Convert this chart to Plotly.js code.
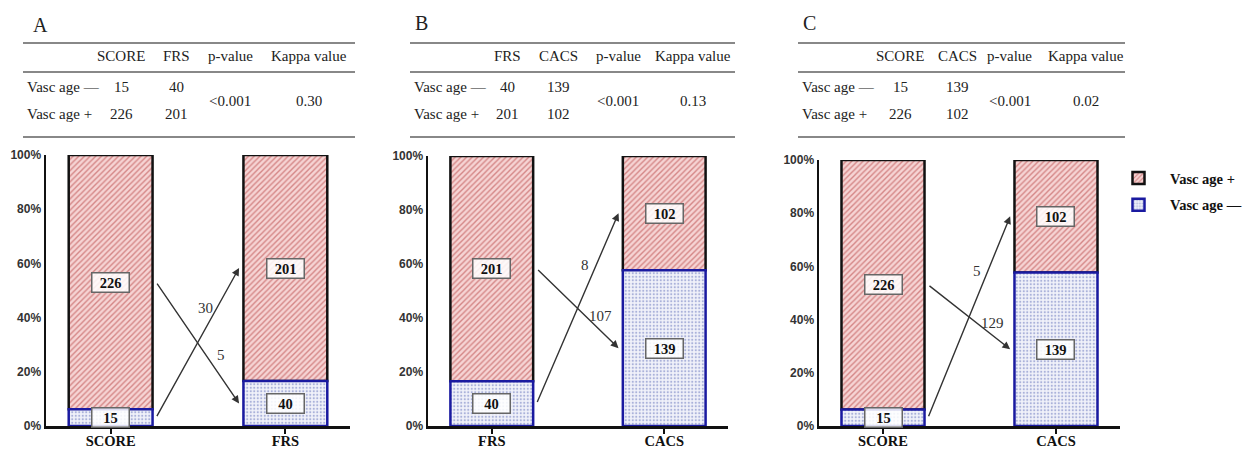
<!DOCTYPE html>
<html><head><meta charset="utf-8">
<script src="https://cdn.plot.ly/plotly-3.0.1.min.js"></script>
<style>body{margin:0;background:#fff}#chart{width:1255px;height:456px}</style>
</head><body><div id="chart"></div>
<script>
// ---------- data ----------
const methods = ['SCORE', 'FRS', 'CACS'];
const vascNeg = [15, 40, 139];     // Vasc age —
const vascPos = [226, 201, 102];   // Vasc age +
const panelLetters = ['A', 'B', 'C'];
const panelPairs = [['SCORE', 'FRS'], ['FRS', 'CACS'], ['SCORE', 'CACS']];
const upArrowLabels = [30, 8, 5];
const downArrowLabels = [5, 107, 129];
const pValues = ['<0.001', '<0.001', '<0.001'];
const kappaValues = ['0.30', '0.13', '0.02'];
const seriesNames = ['Vasc age +', 'Vasc age —'];
const statHeaders = ['p-value', 'Kappa value'];
const yTickVals = [0, 20, 40, 60, 80, 100];
const yTickText = ['0%', '20%', '40%', '60%', '80%', '100%'];

// ---------- geometry (pixels) ----------
const W = 1255, H = 456;
const px = x => x / W, py = y => 1 - y / H;
const geo = [
  {x: [46, 350], y: [155, 426], tL: 23, tR: 355, cols: [121, 176, 230, 309], letter: [40, 25]},
  {x: [428, 728], y: [156, 426], tL: 410, tR: 735, cols: [507, 558, 618, 693], letter: [421, 23]},
  {x: [819, 1120], y: [160, 426], tL: 798, tR: 1125, cols: [900, 957, 1010, 1086], letter: [809, 23]}
];
const tableY = {top: 43, mid: 72, bot: 137, head: 56, r1: 87, r2: 114, stat: 101};

const serif = 'Liberation Serif, Times New Roman, serif';
const sans = 'Liberation Sans, Arial, sans-serif';

const traces = [], annotations = [], shapes = [];
const layout = {
  width: W, height: H, margin: {l: 0, r: 0, t: 0, b: 0},
  paper_bgcolor: '#fff', plot_bgcolor: 'rgba(0,0,0,0)',
  barmode: 'overlay', showlegend: true,
  legend: {x: px(1107), y: py(162), xanchor: 'left', yanchor: 'top',
           font: {family: serif, size: 14.5, color: '#111', weight: 'bold'},
           itemwidth: 53, traceorder: 'grouped', tracegroupgap: 5, bgcolor: 'rgba(0,0,0,0)'},
  annotations, shapes
};

panelPairs.forEach((pair, i) => {
  const g = geo[i];
  const sfx = i === 0 ? '' : String(i + 1);
  const xa = 'x' + sfx, ya = 'y' + sfx;
  const idx = pair.map(m => methods.indexOf(m));
  const neg = idx.map(k => vascNeg[k]);
  const pos = idx.map(k => vascPos[k]);
  const negPct = neg.map((v, j) => v / (v + pos[j]) * 100);
  const posPct = pos.map((v, j) => v / (v + neg[j]) * 100);

  traces.push({
    type: 'bar', x: pair, y: posPct, base: negPct, width: 0.48,
    name: seriesNames[0], legendgroup: 'pos', showlegend: i === 0,
    xaxis: xa, yaxis: ya, hoverinfo: 'skip',
    marker: {color: '#d48686',
             pattern: {shape: '/', fgcolor: '#d48686', bgcolor: '#f6d4d4', size: 4, solidity: 0.35},
             line: {color: '#111', width: 2.5}}
  });
  traces.push({
    type: 'bar', x: pair, y: negPct, base: [0, 0], width: 0.48,
    name: seriesNames[1], legendgroup: 'neg', showlegend: i === 0,
    xaxis: xa, yaxis: ya, hoverinfo: 'skip',
    marker: {color: '#aab2da',
             pattern: {shape: '.', fgcolor: '#aab2da', bgcolor: '#f1f2fa', size: 3.5, solidity: 0.3},
             line: {color: '#1a1aa0', width: 2.5}}
  });

  layout['xaxis' + sfx] = {
    domain: [px(g.x[0]), px(g.x[1])], anchor: ya,
    type: 'category', categoryorder: 'array', categoryarray: pair,
    range: [-0.37, 1.37], showline: true, linecolor: '#111', linewidth: 2.5,
    ticks: 'outside', ticklen: 5, tickwidth: 2, tickcolor: '#111', ticklabelstandoff: -5,
    showgrid: false, zeroline: false, automargin: false, fixedrange: true,
    tickfont: {family: serif, size: 14.5, color: '#111', weight: 'bold'}
  };
  layout['yaxis' + sfx] = {
    domain: [py(g.y[1]), py(g.y[0])], anchor: xa,
    range: [0, 100], tickmode: 'array', tickvals: yTickVals, ticktext: yTickText,
    showline: true, linecolor: '#111', linewidth: 2.5, ticks: '',
    showgrid: false, zeroline: false, automargin: false, fixedrange: true,
    tickfont: {family: sans, size: 12, color: '#333', weight: 'bold'}
  };

  // count boxes
  pair.forEach((cat, j) => {
    const box = {xref: xa, yref: ya, x: cat, showarrow: false, xanchor: 'center', yanchor: 'middle',
      font: {family: serif, size: 14.5, color: '#111', weight: 'bold'},
      bgcolor: 'rgba(255,255,255,0.85)', bordercolor: '#666', borderwidth: 1.5,
      borderpad: 1.5, width: 33, height: 15};
    annotations.push(Object.assign({}, box, {y: negPct[j] / 2, text: String(neg[j])}));
    annotations.push(Object.assign({}, box, {y: negPct[j] + posPct[j] / 2, text: String(pos[j])}));
  });

  // reclassification arrows
  const x0 = 0.26, x1 = 0.735;
  const down = {s: negPct[0] + posPct[0] / 2, e: negPct[1] / 2};
  const up = {s: negPct[0] / 2, e: negPct[1] + posPct[1] / 2};
  [down, up].forEach(a => annotations.push({
    xref: xa, yref: ya, axref: xa, ayref: ya,
    x: x1, y: a.e, ax: x0, ay: a.s, text: '', showarrow: true,
    arrowhead: 2, arrowsize: 1.1, arrowwidth: 1.4, arrowcolor: '#333'
  }));
  const tU = 0.73, tD = 0.6;
  annotations.push({xref: xa, yref: ya, x: x0 + tU * (x1 - x0), y: up.s + tU * (up.e - up.s),
    xshift: -11, showarrow: false, text: String(upArrowLabels[i]), xanchor: 'center', yanchor: 'middle',
    font: {family: serif, size: 15, color: '#333'}});
  annotations.push({xref: xa, yref: ya, x: x0 + tD * (x1 - x0), y: down.s + tD * (down.e - down.s),
    xshift: 15, showarrow: false, text: String(downArrowLabels[i]), xanchor: 'center', yanchor: 'middle',
    font: {family: serif, size: 15, color: '#333'}});

  // table
  ['top', 'mid', 'bot'].forEach(k => shapes.push({
    type: 'line', xref: 'paper', yref: 'paper',
    x0: px(g.tL), x1: px(g.tR), y0: py(tableY[k]), y1: py(tableY[k]),
    line: {color: '#888', width: 2.2}
  }));
  const tf = {family: serif, size: 15, color: '#222'};
  const t = (x, y, text, xanchor) => annotations.push({xref: 'paper', yref: 'paper',
    x: px(x), y: py(y), text, showarrow: false, font: tf, xanchor: xanchor || 'center', yanchor: 'middle'});
  annotations.push({xref: 'paper', yref: 'paper', x: px(g.letter[0]), y: py(g.letter[1]),
    xanchor: 'center', yanchor: 'middle',
    text: panelLetters[i], showarrow: false, font: {family: serif, size: 20, color: '#222'}});
  const heads = pair.concat(statHeaders);
  heads.forEach((h, c) => t(g.cols[c], tableY.head, h));
  t(g.tL + 2, tableY.r1, seriesNames[1], 'left');
  t(g.tL + 2, tableY.r2, seriesNames[0], 'left');
  neg.forEach((v, c) => t(g.cols[c], tableY.r1, String(v)));
  pos.forEach((v, c) => t(g.cols[c], tableY.r2, String(v)));
  t(g.cols[2], tableY.stat, pValues[i].replace('<', '&lt;'));
  t(g.cols[3], tableY.stat, kappaValues[i]);
});

Plotly.newPlot('chart', traces, layout, {displayModeBar: false, staticPlot: true});
</script>
</body></html>
